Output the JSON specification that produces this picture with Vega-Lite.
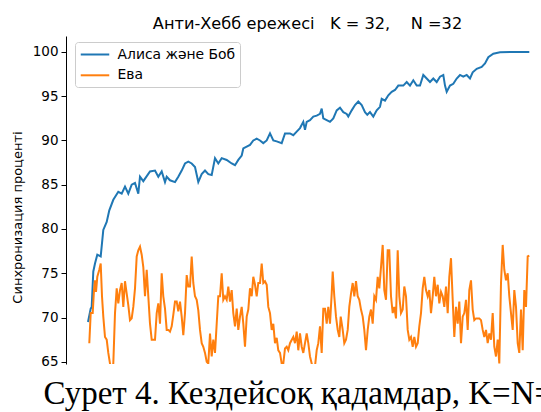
{
  "$schema": "https://vega.github.io/schema/vega-lite/v6.json",
  "autosize": {"type": "none"},
  "width": 475,
  "height": 328,
  "padding": {"left": 66, "top": 36, "right": 0, "bottom": 48},
  "background": "white",
  "config": {
    "view": {"stroke": null},
    "font": "DejaVu Sans"
  },
  "title": {
    "text": "Анти-Хебб ережесі\u00a0\u00a0 K = 32,\u00a0\u00a0\u00a0 N =32",
    "font": "DejaVu Sans",
    "fontSize": 16.2,
    "fontWeight": "normal",
    "color": "#000",
    "anchor": "middle",
    "dx": 4,
    "offset": 4
  },
  "datasets": {
    "alice": [
      {"s":0,"v":69.5},{"s":2.7,"v":71.0},{"s":3.7,"v":71.2},{"s":5.3,"v":75.2},{"s":7,"v":76.1},{"s":9.3,"v":77.1},{"s":12.7,"v":76.9},{"s":15.3,"v":79.9},{"s":18.7,"v":80.8},{"s":21.3,"v":82.1},{"s":25.3,"v":83.3},{"s":30.3,"v":84.2},{"s":33.7,"v":84.0},{"s":37,"v":84.8},{"s":40.3,"v":84.0},{"s":43.7,"v":85.0},{"s":47,"v":85.2},{"s":50.3,"v":84.0},{"s":52,"v":85.9},{"s":55.3,"v":85.4},{"s":62,"v":86.5},{"s":67,"v":86.6},{"s":70.3,"v":85.9},{"s":73.7,"v":86.5},{"s":77,"v":85.3},{"s":78.7,"v":85.9},{"s":82,"v":85.5},{"s":87,"v":85.3},{"s":90.3,"v":85.9},{"s":93.7,"v":86.6},{"s":97,"v":87.4},{"s":100.3,"v":87.6},{"s":103.7,"v":87.4},{"s":107,"v":87.0},{"s":110.3,"v":85.3},{"s":113.7,"v":86.2},{"s":117,"v":86.6},{"s":120.3,"v":86.2},{"s":123.7,"v":86.1},{"s":127,"v":88.0},{"s":130.3,"v":87.4},{"s":133.7,"v":88.0},{"s":138.7,"v":87.8},{"s":143.7,"v":87.4},{"s":147,"v":87.2},{"s":150.3,"v":87.8},{"s":153.7,"v":88.3},{"s":155.3,"v":89.1},{"s":158.7,"v":89.3},{"s":162,"v":89.5},{"s":165.3,"v":90.0},{"s":168.7,"v":90.2},{"s":172,"v":90.0},{"s":175.3,"v":89.7},{"s":178.7,"v":90.0},{"s":182,"v":90.8},{"s":185.3,"v":90.0},{"s":188.7,"v":89.9},{"s":193.7,"v":89.7},{"s":197,"v":90.8},{"s":202,"v":90.8},{"s":205.3,"v":90.6},{"s":208.7,"v":91.0},{"s":212,"v":91.4},{"s":215.3,"v":92.1},{"s":217,"v":91.2},{"s":218.7,"v":92.1},{"s":222,"v":92.3},{"s":225.3,"v":92.7},{"s":228.7,"v":92.8},{"s":232,"v":93.0},{"s":233.7,"v":93.6},{"s":235.3,"v":92.5},{"s":238.7,"v":92.3},{"s":242,"v":92.1},{"s":245.3,"v":92.5},{"s":248.7,"v":93.4},{"s":252,"v":93.7},{"s":255.3,"v":93.2},{"s":258.7,"v":93.0},{"s":260.3,"v":92.7},{"s":263.7,"v":93.4},{"s":267,"v":94.0},{"s":270.3,"v":94.4},{"s":273.7,"v":94.0},{"s":277,"v":93.2},{"s":279.3,"v":92.9},{"s":282,"v":93.2},{"s":285.3,"v":92.7},{"s":288.7,"v":93.4},{"s":292,"v":93.8},{"s":293.7,"v":94.7},{"s":297,"v":94.5},{"s":300.3,"v":95.1},{"s":303.7,"v":95.5},{"s":307,"v":95.7},{"s":310.3,"v":96.2},{"s":315.3,"v":96.2},{"s":318.7,"v":96.6},{"s":322,"v":96.2},{"s":325.3,"v":96.8},{"s":328.7,"v":96.2},{"s":332,"v":96.2},{"s":335.3,"v":97.4},{"s":338.7,"v":97.0},{"s":342,"v":96.6},{"s":345.3,"v":97.0},{"s":348.7,"v":96.6},{"s":352,"v":97.2},{"s":355.3,"v":97.4},{"s":357,"v":96.2},{"s":358.7,"v":95.5},{"s":362,"v":96.2},{"s":365.3,"v":96.4},{"s":368.7,"v":97.0},{"s":372,"v":97.4},{"s":375.3,"v":97.2},{"s":378.7,"v":97.4},{"s":382,"v":97.0},{"s":384.7,"v":97.7},{"s":388.7,"v":98.1},{"s":393.7,"v":98.3},{"s":397,"v":98.7},{"s":400.3,"v":99.4},{"s":405.3,"v":99.8},{"s":412,"v":99.96},{"s":422,"v":100},{"s":441.3,"v":100}
    ],
    "eve": [
      {"s":1.3,"v":67.1},{"s":2.7,"v":70.5},{"s":4.7,"v":70.5},{"s":6.0,"v":73.1},{"s":7.0,"v":74.2},{"s":8.0,"v":72.9},{"s":9.3,"v":74.6},{"s":11.3,"v":75.4},{"s":12.7,"v":76.1},{"s":14.0,"v":72.4},{"s":15.3,"v":70.1},{"s":17.0,"v":67.8},{"s":18.7,"v":67.5},{"s":20.3,"v":66.0},{"s":22.0,"v":64.8},{"s":23.7,"v":64.1},{"s":25.3,"v":64.8},{"s":27.0,"v":70.5},{"s":28.7,"v":73.3},{"s":30.3,"v":71.6},{"s":32.0,"v":73.1},{"s":33.7,"v":73.9},{"s":35.3,"v":71.2},{"s":37.0,"v":74.1},{"s":38.7,"v":72.7},{"s":40.3,"v":71.4},{"s":42.0,"v":69.7},{"s":43.7,"v":69.9},{"s":45.3,"v":71.2},{"s":47.0,"v":73.3},{"s":48.7,"v":76.9},{"s":50.3,"v":77.6},{"s":52.0,"v":78.0},{"s":53.7,"v":77.1},{"s":55.3,"v":75.7},{"s":57.0,"v":72.4},{"s":58.7,"v":75.4},{"s":60.3,"v":72.4},{"s":62.0,"v":69.3},{"s":63.7,"v":67.5},{"s":65.3,"v":67.5},{"s":67.0,"v":67.5},{"s":68.7,"v":70.5},{"s":70.3,"v":71.6},{"s":72.0,"v":69.3},{"s":73.7,"v":75.0},{"s":75.3,"v":72.4},{"s":77.0,"v":71.0},{"s":78.7,"v":68.6},{"s":80.3,"v":68.6},{"s":82.0,"v":68.4},{"s":83.7,"v":69.0},{"s":85.3,"v":70.3},{"s":87.0,"v":71.8},{"s":88.7,"v":71.8},{"s":90.3,"v":70.7},{"s":92.0,"v":71.8},{"s":93.7,"v":70.1},{"s":95.3,"v":68.0},{"s":97.0,"v":70.5},{"s":98.7,"v":74.8},{"s":100.3,"v":73.5},{"s":102.0,"v":73.5},{"s":103.7,"v":76.9},{"s":105.3,"v":73.9},{"s":107.0,"v":72.4},{"s":108.7,"v":72.0},{"s":110.3,"v":70.8},{"s":112.0,"v":68.6},{"s":113.7,"v":67.1},{"s":115.3,"v":66.7},{"s":117.0,"v":66.0},{"s":118.7,"v":65.0},{"s":120.3,"v":64.8},{"s":122.0,"v":68.2},{"s":123.7,"v":65.6},{"s":125.3,"v":67.5},{"s":127.0,"v":66.0},{"s":128.7,"v":69.3},{"s":130.3,"v":72.4},{"s":132.0,"v":72.4},{"s":133.7,"v":75.0},{"s":135.3,"v":72.0},{"s":137.0,"v":72.4},{"s":138.7,"v":72.0},{"s":140.3,"v":73.5},{"s":142.0,"v":71.8},{"s":143.7,"v":73.1},{"s":145.3,"v":70.5},{"s":147.0,"v":69.0},{"s":148.7,"v":71.0},{"s":150.3,"v":68.6},{"s":152.0,"v":70.1},{"s":153.7,"v":71.2},{"s":155.3,"v":69.3},{"s":157.0,"v":66.7},{"s":158.7,"v":70.1},{"s":160.3,"v":70.9},{"s":162.0,"v":73.3},{"s":163.7,"v":72.4},{"s":165.3,"v":74.6},{"s":167.0,"v":73.7},{"s":168.7,"v":72.4},{"s":170.3,"v":73.9},{"s":172.0,"v":73.9},{"s":173.7,"v":76.1},{"s":175.3,"v":73.9},{"s":177.0,"v":74.1},{"s":178.7,"v":73.7},{"s":180.3,"v":71.2},{"s":182.0,"v":70.5},{"s":183.7,"v":68.6},{"s":185.3,"v":69.3},{"s":187.0,"v":67.1},{"s":188.7,"v":67.7},{"s":190.3,"v":66.3},{"s":192.0,"v":66.0},{"s":193.7,"v":64.8},{"s":195.3,"v":64.8},{"s":197.0,"v":66.5},{"s":198.7,"v":66.7},{"s":200.3,"v":66.3},{"s":202.0,"v":67.1},{"s":205.3,"v":67.8},{"s":207.0,"v":67.1},{"s":208.7,"v":68.4},{"s":210.3,"v":66.3},{"s":212.0,"v":68.2},{"s":213.7,"v":66.7},{"s":215.3,"v":66.0},{"s":217.0,"v":67.1},{"s":218.7,"v":68.2},{"s":220.3,"v":67.1},{"s":222.0,"v":65.6},{"s":223.7,"v":64.8},{"s":225.3,"v":64.1},{"s":227.0,"v":64.5},{"s":228.7,"v":66.3},{"s":230.3,"v":67.1},{"s":232.0,"v":69.0},{"s":233.7,"v":66.0},{"s":235.3,"v":71.0},{"s":237.0,"v":71.0},{"s":238.7,"v":69.3},{"s":240.3,"v":71.2},{"s":242.0,"v":69.3},{"s":243.7,"v":72.7},{"s":244.7,"v":75.2},{"s":246.3,"v":72.4},{"s":248.0,"v":70.1},{"s":249.7,"v":68.6},{"s":251.3,"v":67.8},{"s":252.7,"v":70.1},{"s":254.7,"v":68.6},{"s":256.3,"v":67.1},{"s":258.0,"v":67.5},{"s":259.7,"v":68.6},{"s":261.3,"v":71.2},{"s":263.0,"v":72.7},{"s":264.7,"v":73.9},{"s":266.3,"v":72.4},{"s":268.0,"v":74.1},{"s":269.7,"v":72.4},{"s":271.3,"v":72.0},{"s":273.0,"v":70.9},{"s":274.7,"v":70.1},{"s":276.3,"v":68.6},{"s":278.0,"v":66.3},{"s":279.7,"v":68.6},{"s":281.3,"v":70.1},{"s":283.0,"v":70.9},{"s":284.7,"v":69.3},{"s":286.3,"v":72.4},{"s":288.0,"v":72.0},{"s":289.7,"v":74.6},{"s":291.3,"v":73.3},{"s":293.0,"v":75.7},{"s":294.7,"v":78.2},{"s":296.3,"v":73.1},{"s":298.0,"v":72.0},{"s":299.7,"v":77.6},{"s":301.3,"v":77.6},{"s":303.0,"v":72.4},{"s":304.7,"v":70.5},{"s":306.3,"v":71.2},{"s":308.0,"v":69.9},{"s":309.7,"v":77.6},{"s":311.3,"v":72.4},{"s":313.0,"v":70.5},{"s":314.7,"v":70.9},{"s":316.3,"v":73.5},{"s":318.0,"v":72.4},{"s":319.7,"v":68.6},{"s":321.3,"v":67.5},{"s":323.0,"v":67.8},{"s":324.7,"v":66.7},{"s":326.3,"v":67.8},{"s":328.0,"v":66.7},{"s":329.7,"v":67.1},{"s":331.3,"v":69.0},{"s":333.0,"v":70.5},{"s":334.7,"v":73.3},{"s":336.3,"v":74.6},{"s":338.0,"v":73.1},{"s":339.7,"v":72.4},{"s":341.3,"v":73.1},{"s":343.0,"v":70.5},{"s":344.7,"v":72.4},{"s":346.3,"v":74.6},{"s":348.0,"v":72.4},{"s":349.7,"v":73.7},{"s":351.3,"v":71.6},{"s":353.0,"v":72.9},{"s":354.7,"v":72.4},{"s":356.3,"v":71.2},{"s":358.0,"v":73.5},{"s":359.7,"v":70.5},{"s":361.3,"v":74.6},{"s":363.0,"v":76.7},{"s":364.7,"v":72.0},{"s":366.3,"v":67.8},{"s":368.0,"v":71.2},{"s":369.7,"v":69.3},{"s":371.3,"v":71.8},{"s":373.0,"v":67.1},{"s":374.7,"v":70.1},{"s":376.3,"v":70.5},{"s":378.0,"v":72.0},{"s":379.7,"v":68.6},{"s":381.3,"v":73.1},{"s":383.0,"v":74.2},{"s":384.7,"v":70.9},{"s":386.3,"v":69.7},{"s":388.0,"v":69.9},{"s":389.7,"v":69.9},{"s":391.3,"v":69.9},{"s":393.0,"v":69.7},{"s":394.7,"v":68.6},{"s":396.3,"v":67.8},{"s":398.0,"v":68.6},{"s":399.7,"v":67.1},{"s":401.3,"v":68.2},{"s":403.0,"v":67.5},{"s":404.7,"v":70.5},{"s":406.3,"v":66.7},{"s":408.0,"v":65.6},{"s":409.7,"v":67.5},{"s":411.3,"v":64.8},{"s":413.0,"v":73.9},{"s":414.7,"v":78.2},{"s":416.3,"v":75.4},{"s":418.0,"v":74.2},{"s":419.7,"v":75.0},{"s":421.3,"v":72.4},{"s":423.0,"v":70.5},{"s":424.7,"v":68.6},{"s":426.3,"v":73.1},{"s":428.0,"v":71.2},{"s":429.7,"v":67.1},{"s":431.3,"v":66.0},{"s":433.0,"v":70.9},{"s":434.7,"v":66.3},{"s":436.3,"v":73.1},{"s":438.0,"v":71.2},{"s":439.7,"v":76.9},{"s":441.3,"v":77.0}
    ]
  },
  "encoding": {
    "x": {
      "field": "s",
      "type": "quantitative",
      "scale": {"domain": [-22, 453], "nice": false, "zero": false},
      "axis": {
        "orient": "bottom",
        "domain": false,
        "ticks": false,
        "labels": false,
        "grid": false,
        "title": "Сурет 4. Кездейсоқ қадамдар, K=N=32",
        "titleFont": "Liberation Serif",
        "titleFontSize": 33,
        "titleFontWeight": "normal",
        "titleColor": "#000",
        "titleAlign": "left",
        "titleAnchor": "start",
        "titleBaseline": "alphabetic",
        "titleX": -23,
        "titleY": 39,
        "titleLimit": 2000
      }
    },
    "y": {
      "field": "v",
      "type": "quantitative",
      "scale": {"domain": [64.75, 101.8], "nice": false, "zero": false},
      "axis": {
        "values": [65, 70, 75, 80, 85, 90, 95, 100],
        "grid": false,
        "domain": true,
        "domainColor": "#000",
        "domainWidth": 1,
        "ticks": true,
        "tickColor": "#000",
        "tickSize": 5,
        "tickWidth": 1,
        "labelFont": "DejaVu Sans",
        "labelFontSize": 13.5,
        "labelColor": "#000",
        "labelPadding": 3,
        "title": "Синхронизация проценті",
        "titleFont": "DejaVu Sans",
        "titleFontSize": 13,
        "titleFontWeight": "normal",
        "titleColor": "#000",
        "titleX": -49,
        "titleY": 181,
        "titleAngle": 270,
        "titleAlign": "center",
        "titleBaseline": "middle"
      }
    }
  },
  "layer": [
    {
      "data": {"name": "alice"},
      "mark": {"type": "line", "strokeWidth": 2, "clip": true, "interpolate": "linear"},
      "encoding": {
        "color": {
          "datum": "Алиса және Боб",
          "type": "nominal",
          "scale": {"domain": ["Алиса және Боб", "Ева"], "range": ["#1f77b4", "#ff7f0e"]},
          "legend": {
            "orient": "none",
            "legendX": 9,
            "legendY": 6,
            "title": null,
            "padding": 4,
            "fillColor": "rgba(255,255,255,0.8)",
            "strokeColor": "#cccccc",
            "cornerRadius": 3,
            "symbolType": "M-1.9,0H1.9",
            "symbolSize": 225,
            "symbolStrokeWidth": 2,
            "symbolOffset": 7.5,
            "labelOffset": 14,
            "labelFont": "DejaVu Sans",
            "labelFontSize": 13.9,
            "labelColor": "#000",
            "rowPadding": 4.8
          }
        }
      }
    },
    {
      "data": {"name": "eve"},
      "mark": {"type": "line", "strokeWidth": 2, "clip": true, "interpolate": "linear"},
      "encoding": {
        "color": {"datum": "Ева", "type": "nominal"}
      }
    },
    {
      "data": {"values": [{}]},
      "mark": {"type": "rule", "stroke": "#000", "strokeWidth": 1},
      "encoding": {
        "y": {"datum": 101.8}
      }
    }
  ]
}
